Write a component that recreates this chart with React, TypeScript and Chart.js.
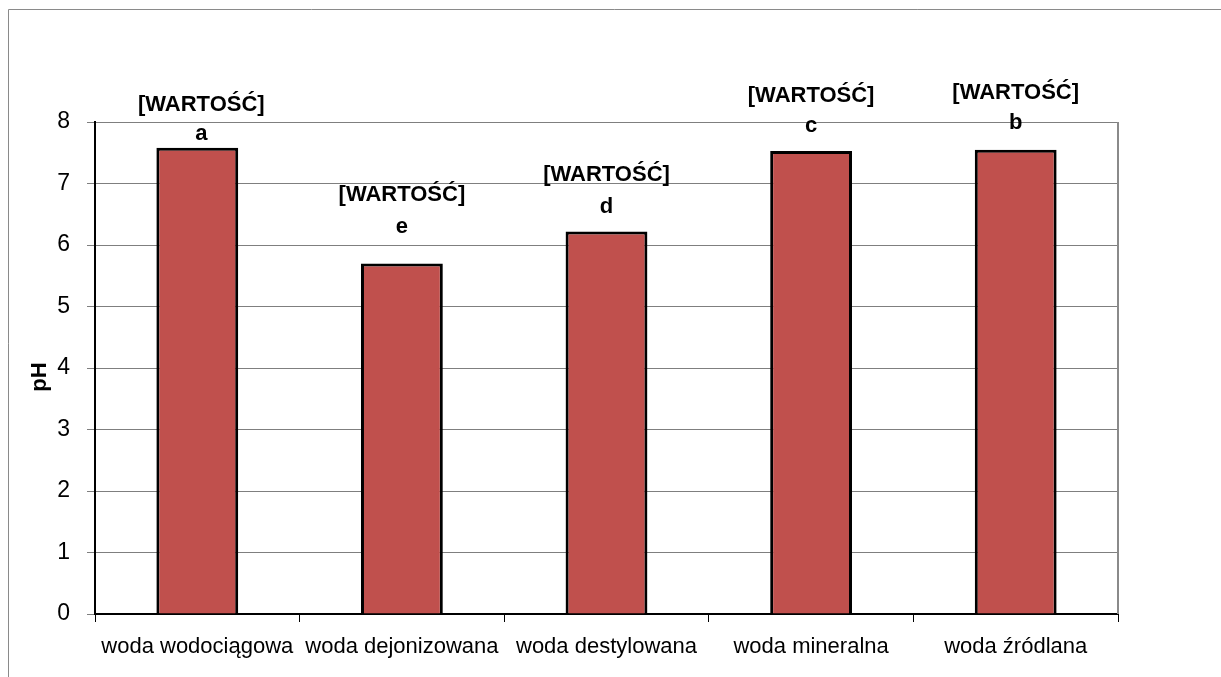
import { useEffect, useRef } from 'react';
import { Chart, registerables } from 'chart.js';

Chart.register(...registerables);

const categories = [
  'woda wodociągowa',
  'woda dejonizowana',
  'woda destylowana',
  'woda mineralna',
  'woda źródlana',
];
const phValues = [7.58, 5.7, 6.22, 7.53, 7.55];
const groupLetters = ['a', 'e', 'd', 'c', 'b'];
const valueLabel = '[WARTOŚĆ]';
const yMin = 0;
const yMax = 8;
const yStep = 1;

// Hand-placed label offsets above each bar top (baseline distance, px) and a small horizontal nudge
const letterLift = [7.5, 30, 18.4, 19, 21];
const valueLift = [37, 62.6, 50, 49, 51];
const labelShift = [4, 0, 0, 0, 0];

const FONT = '"Liberation Sans", Arial, sans-serif';

const decorPlugin = {
  id: 'decor',
  beforeDraw(chart: any) {
    const { ctx, width, height } = chart;
    ctx.save();
    ctx.fillStyle = '#ffffff';
    ctx.fillRect(0, 0, width, height);
    ctx.strokeStyle = '#8a8a8a';
    ctx.lineWidth = 1;
    ctx.beginPath();
    ctx.moveTo(8.5, height);
    ctx.lineTo(8.5, 9.5);
    ctx.lineTo(width, 9.5);
    ctx.stroke();
    ctx.restore();
  },
  afterDraw(chart: any) {
    const { ctx, chartArea } = chart;
    ctx.save();
    // right edge of the plot frame
    ctx.strokeStyle = '#8a8a8a';
    ctx.lineWidth = 2;
    ctx.beginPath();
    ctx.moveTo(chartArea.right, chartArea.top);
    ctx.lineTo(chartArea.right, chartArea.bottom);
    ctx.stroke();

    // y axis title
    ctx.fillStyle = '#000';
    ctx.font = `bold 22px ${FONT}`;
    ctx.textAlign = 'center';
    ctx.textBaseline = 'middle';
    ctx.save();
    ctx.translate(40, 377);
    ctx.rotate(-Math.PI / 2);
    ctx.fillText('pH', 0, 0);
    ctx.restore();

    // data labels with group letters
    const meta = chart.getDatasetMeta(0);
    ctx.textBaseline = 'alphabetic';
    meta.data.forEach((el: any, i: number) => {
      const x = el.x + labelShift[i];
      ctx.fillText(groupLetters[i], x, el.y - letterLift[i]);
      ctx.fillText(valueLabel, x, el.y - valueLift[i]);
    });
    ctx.restore();
  },
};

export default function App() {
  const canvasRef = useRef<HTMLCanvasElement | null>(null);

  useEffect(() => {
    const canvas = canvasRef.current;
    if (!canvas) return;
    const chart = new Chart(canvas, {
      type: 'bar',
      data: {
        labels: categories,
        datasets: [
          {
            data: phValues,
            backgroundColor: '#C0504D',
            borderColor: '#000000',
            borderWidth: 3,
            barPercentage: 0.4,
            categoryPercentage: 1,
          },
        ],
      },
      options: {
        responsive: false,
        animation: false,
        devicePixelRatio: 1,
        layout: { padding: { left: 0, top: 122, right: 103, bottom: 0 } },
        plugins: {
          legend: { display: false },
          tooltip: { enabled: false },
          title: { display: false },
        },
        scales: {
          x: {
            grid: {
              drawOnChartArea: false,
              drawTicks: true,
              tickLength: 8,
              color: '#000',
              lineWidth: 1,
            },
            border: { color: '#000', width: 2 },
            ticks: {
              color: '#000',
              padding: 12,
              font: { family: FONT, size: 22 },
              maxRotation: 0,
              autoSkip: false,
            },
            afterFit: (scale: any) => {
              scale.height = 63;
            },
          },
          y: {
            min: yMin,
            max: yMax,
            grid: {
              color: '#7f7f7f',
              lineWidth: 1,
              drawTicks: true,
              tickLength: 8,
            },
            border: { color: '#000', width: 2 },
            ticks: {
              stepSize: yStep,
              color: '#000',
              padding: 17,
              font: { family: FONT, size: 23 },
            },
            afterFit: (scale: any) => {
              scale.width = 95;
            },
          },
        },
      },
      plugins: [decorPlugin],
    });
    return () => chart.destroy();
  }, []);

  return (
    <div style={{ position: 'absolute', left: 0, top: 0, width: 1221, height: 677 }}>
      <canvas ref={canvasRef} width={1221} height={677} style={{ display: 'block' }} />
    </div>
  );
}
